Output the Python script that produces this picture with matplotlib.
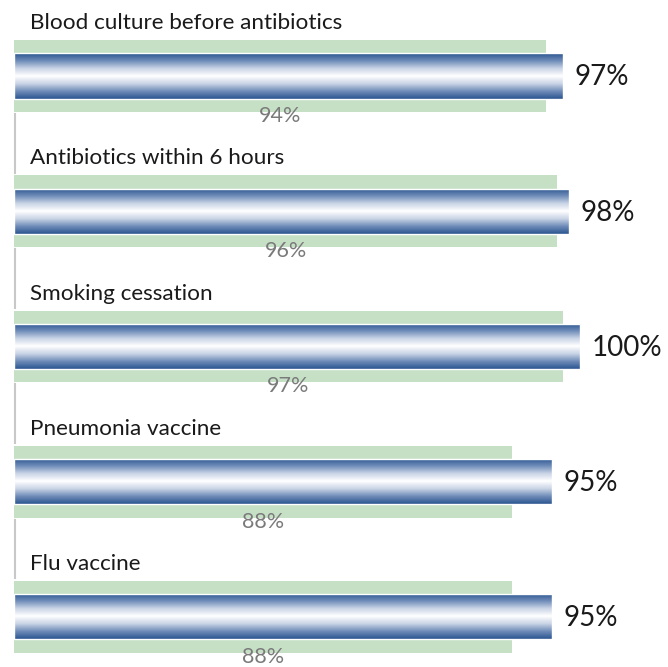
import numpy as np
import matplotlib
matplotlib.use("Agg")
import matplotlib.pyplot as plt
from matplotlib.colors import LinearSegmentedColormap

categories = ["Blood culture before antibiotics", "Antibiotics within 6 hours",
              "Smoking cessation", "Pneumonia vaccine", "Flu vaccine"]
hospital = [97, 98, 100, 95, 95]
benchmark = [94, 96, 97, 88, 88]

FONT = "Lato"
fig = plt.figure(figsize=(6.68, 6.67), dpi=100)
ax = fig.add_axes([0, 0, 1, 1])
ax.set_xlim(-2.47, 115.55)
ax.set_ylim(4.37, -0.562)
ax.axis("off")

y = np.arange(len(categories))
green_h = 0.532
blue_h = 0.333

ax.barh(y, benchmark, height=green_h, color="#c6e0c6", zorder=1)
blue = ax.barh(y, hospital, height=blue_h, color="none", edgecolor="white", linewidth=1.0, zorder=3)

cmap = LinearSegmentedColormap.from_list("g", ["#2a5590", "#6f8cb8", "#c9d4e6", "#ffffff", "#c9d4e6", "#6f8cb8", "#2a5590"])
grad = np.linspace(0, 1, 200).reshape(-1, 1)
for p in blue.patches:
    x0, y0 = p.get_x(), p.get_y()
    w, h = p.get_width(), p.get_height()
    im = ax.imshow(grad, cmap=cmap, aspect="auto", extent=[x0, x0 + w, y0 + h, y0],
                   zorder=2, interpolation="bilinear")
    im.set_clip_path(p)

for i, (c, hv, bv) in enumerate(zip(categories, hospital, benchmark)):
    ax.text(2.8, i - green_h / 2 - 0.08, c, fontsize=16.2, family=FONT, color="#1a1a1a",
            ha="left", va="baseline")
    ax.text(hv + 2.1, i + 0.01, f"{hv}%", fontsize=20, family=FONT, color="#1a1a1a",
            ha="left", va="center")
    ax.text(bv / 2, i + green_h / 2 - 0.045, f"{bv}%", fontsize=15.5, family=FONT, color="#7a7a7a",
            ha="center", va="top")
    if i < len(categories) - 1:
        ax.plot([0.15, 0.15], [i + green_h / 2 + 0.015, i + 1 - green_h / 2 - 0.02],
                color="#c8c8c8", linewidth=1.5, zorder=1)

fig.savefig("out.png", dpi=100)
